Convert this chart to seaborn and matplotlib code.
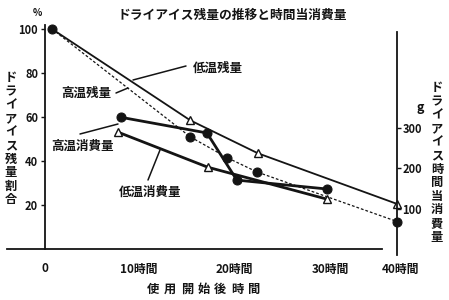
import matplotlib
matplotlib.use("Agg")
import matplotlib.pyplot as plt
from matplotlib.lines import Line2D
import seaborn as sns

# ---------------- data ----------------
low_rem_hours = [0.8, 16.5, 24.2, 40.0]          # 低温残量 (%)
low_rem_pct = [100, 58.5, 43.5, 20.5]
high_rem_hours = [0.8, 16.5, 20.7, 24.1, 40.0]   # 高温残量 (%)
high_rem_pct = [100, 51, 41.5, 35, 12.5]
high_use_hours = [8.6, 18.4, 21.8, 32.0]         # 高温消費量 (g)
high_use_g = [327, 288, 171, 149]
low_use_hours = [8.3, 18.5, 32.0]                # 低温消費量 (g)
low_use_g = [290, 203, 124]

left_ticks = [20, 40, 60, 80, 100]
right_ticks = [100, 200, 300]
x_ticks = [0, 10, 20, 30, 40]
x_tick_labels = ["0", "10時間", "20時間", "30時間", "40時間"]
minor_x_ticks = [5.5, 16.3, 26.5]

title_text = "ドライアイス残量の推移と時間当消費量"
left_label = "ドライアイス残量割合"
right_label = "ドライアイス時間当消費量"
x_label = "使用開始後時間"
series_names = ["低温残量", "高温残量", "高温消費量", "低温消費量"]

# ---------------- style ----------------
sns.set_theme(style="white")
plt.rcParams["font.family"] = ["Noto Sans CJK JP", "DejaVu Sans"]
plt.rcParams["font.weight"] = "bold"
ink = "#141414"

W, H = 449, 300
fig = plt.figure(figsize=(W / 100, H / 100), dpi=100)
fig.patch.set_facecolor("white")


def fx(px):
    return px / W


def fy(py):
    return 1 - py / H


G = 5.46  # grams per percent on the twin scale
ax = fig.add_axes([fx(5.4), fy(257.8), 404.8 / W, 242 / H])
ax.set_xlim(-4.5, 41.5)
ax.set_ylim(-4, 106)
ax.patch.set_alpha(0)
ax2 = ax.twinx()
ax2.set_ylim(-4 * G, 106 * G)

# spines
for s in ["top", "right"]:
    ax.spines[s].set_visible(False)
ax.spines["left"].set_position(("data", 0))
ax.spines["left"].set_bounds(0, 102)
ax.spines["bottom"].set_position(("data", 0))
ax.spines["bottom"].set_bounds(-4.3, 38.3)
for s in ["left", "top", "bottom"]:
    ax2.spines[s].set_visible(False)
ax2.spines["right"].set_position(("data", 40))
ax2.spines["right"].set_bounds(-15, 538)
for sp in list(ax.spines.values()) + list(ax2.spines.values()):
    sp.set_color(ink)
    sp.set_linewidth(1.3)

# ticks
ax.set_yticks(left_ticks)
ax.tick_params(axis="y", direction="out", length=3, width=1, pad=2,
               labelsize=8, colors=ink)
ax.set_xticks(minor_x_ticks)
ax.set_xticklabels([])
ax.tick_params(axis="x", direction="in", length=2.5, width=1, colors=ink)
ax2.set_yticks(right_ticks)
ax2.tick_params(axis="y", direction="out", length=3, width=1, pad=1,
                labelsize=8, colors=ink)
for lab in ax.get_yticklabels() + ax2.get_yticklabels():
    lab.set_fontweight("bold")

# ---------------- series ----------------
sns.lineplot(x=high_rem_hours, y=high_rem_pct, ax=ax, color=ink, lw=0.9,
             linestyle=(0, (2.2, 1.6)), marker="o", ms=6.5,
             markerfacecolor=ink, markeredgecolor=ink, clip_on=False)
sns.lineplot(x=low_rem_hours, y=low_rem_pct, ax=ax, color=ink, lw=1.3,
             marker="^", markevery=[1, 2, 3], ms=5.5,
             markerfacecolor="white", markeredgecolor=ink,
             markeredgewidth=1.0, clip_on=False)
sns.lineplot(x=high_use_hours, y=high_use_g, ax=ax2, color=ink, lw=2.0,
             marker="o", ms=6.5, markerfacecolor=ink, markeredgecolor=ink,
             clip_on=False)
sns.lineplot(x=low_use_hours, y=low_use_g, ax=ax2, color=ink, lw=2.0,
             marker="^", ms=5.5, markerfacecolor="white",
             markeredgecolor=ink, markeredgewidth=1.0, clip_on=False)
ax.set_xlabel("")
ax.set_ylabel("")
ax2.set_xlabel("")
ax2.set_ylabel("")

# ---------------- text ----------------
# x tick labels (hand lettered: number sits near the tick)
x_label_offsets = [0, -13, -5, 3, -15]
for t, lab, off in zip(x_ticks, x_tick_labels, x_label_offsets):
    ax.annotate(lab, (t, 0), xycoords="data",
                xytext=(off * 0.72, -20 * 0.72), textcoords="offset points",
                ha="center" if t == 0 else "left", va="center",
                fontsize=8.5, fontweight="bold", color=ink,
                annotation_clip=False)

fig.text(fx(232), fy(15), title_text, ha="center", va="center",
         fontsize=9.2, fontweight="bold", color=ink)
fig.text(fx(37), fy(13), "%", ha="center", va="center", fontsize=7,
         fontweight="bold", color=ink)
fig.text(fx(420), fy(108), "g", ha="center", va="center", fontsize=9,
         fontweight="bold", fontstyle="italic", color=ink)


def vertical(text, x, y0, y1, size=8.8):
    n = len(text)
    for i, ch in enumerate(text):
        y = y0 + (y1 - y0) * i / (n - 1)
        fig.text(fx(x), fy(y), ch, ha="center", va="center",
                 fontsize=size, fontweight="bold", color=ink)


vertical(left_label, 11, 78, 200)
vertical(right_label, 437, 88, 237)

# x axis title, letter-spaced
n = len(x_label)
for i, ch in enumerate(x_label):
    x = 153 + (254 - 153) * i / (n - 1)
    fig.text(fx(x), fy(289), ch, ha="center", va="center", fontsize=8.8,
             fontweight="bold", color=ink)

# series labels with leader lines
label_pos = [(218, 68), (86, 93), (83, 146), (150, 192)]
leaders = [((186, 66), (133, 80)), ((116, 93), (128, 88)),
           ((80, 134), (118, 124)), ((148, 180), (160, 150))]
for name, (tx, ty), ((x1, y1), (x2, y2)) in zip(series_names, label_pos,
                                                leaders):
    fig.text(fx(tx), fy(ty), name, ha="center", va="center", fontsize=9,
             fontweight="bold", color=ink)
    fig.add_artist(Line2D([fx(x1), fx(x2)], [fy(y1), fy(y2)],
                          transform=fig.transFigure, color=ink, lw=1.1))

fig.savefig("out.png", dpi=100, facecolor="white")
